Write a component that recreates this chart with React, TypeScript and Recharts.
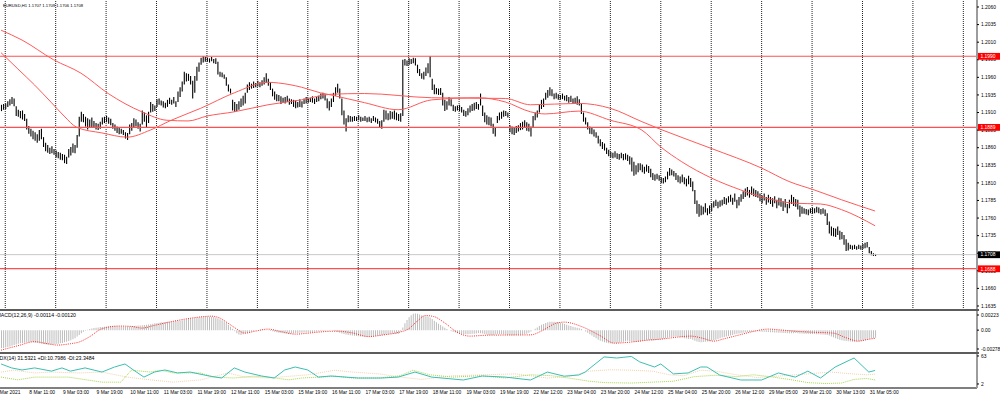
import React from "react";
import { ComposedChart, Bar, Line, XAxis, YAxis, ReferenceLine } from "recharts";

// EURUSD H1 bars, prices in pips over 1.0000 (1921 -> 1.1921)
const highs = [
  1921, 1922, 1923, 1926, 1929, 1932, 1930, 1919, 1914, 1912,
  1913, 1908, 1901, 1891, 1887, 1884, 1882, 1879, 1885, 1887,
  1875, 1867, 1864, 1860, 1862, 1858, 1856, 1854, 1853, 1851,
  1850, 1847, 1858, 1861, 1866, 1864, 1878, 1904, 1911, 1908,
  1904, 1902, 1900, 1903, 1898, 1895, 1894, 1897, 1903, 1904,
  1905, 1903, 1901, 1895, 1893, 1890, 1888, 1887, 1885, 1882,
  1881, 1893, 1895, 1902, 1900, 1896, 1894, 1913, 1910, 1906,
  1911, 1925, 1922, 1920, 1929, 1930, 1927, 1926, 1924, 1928,
  1931, 1928, 1932, 1926, 1940, 1946, 1954, 1968, 1966, 1965,
  1962, 1955, 1962, 1975, 1981, 1988, 1990, 1989, 1988, 1987,
  1989, 1986, 1987, 1982, 1968, 1967, 1964, 1960, 1950, 1944,
  1928, 1925, 1922, 1926, 1930, 1934, 1938, 1950, 1953, 1951,
  1954, 1952, 1955, 1953, 1956, 1960, 1966, 1958, 1953, 1944,
  1940, 1936, 1935, 1933, 1931, 1932, 1934, 1930, 1929, 1928,
  1927, 1925, 1929, 1926, 1930, 1932, 1930, 1931, 1933, 1930,
  1932, 1934, 1937, 1938, 1936, 1930, 1926, 1930, 1938, 1946,
  1951, 1944, 1930, 1913, 1902, 1906, 1905, 1904, 1905, 1904,
  1906, 1904, 1903, 1905, 1903, 1904, 1902, 1905, 1903, 1901,
  1898, 1899, 1914, 1913, 1909, 1912, 1911, 1913, 1910, 1908,
  1909, 1985, 1986, 1984, 1987, 1986, 1988, 1987, 1978, 1972,
  1966, 1968, 1974, 1980, 1990, 1958, 1950, 1945, 1944, 1945,
  1938, 1928, 1926, 1932, 1929, 1921, 1919, 1920, 1921, 1918,
  1914, 1912, 1916, 1920, 1922, 1924, 1925, 1922, 1937, 1920,
  1910, 1906, 1904, 1903, 1894, 1888, 1905, 1910, 1911, 1913,
  1912, 1910, 1892, 1890, 1888, 1891, 1892, 1895, 1897, 1899,
  1896, 1894, 1890, 1905, 1910, 1913, 1922, 1928, 1930, 1938,
  1942, 1946, 1943, 1937, 1938, 1936, 1935, 1937, 1934, 1935,
  1932, 1934, 1930, 1931, 1933, 1929, 1922, 1910, 1903, 1896,
  1890, 1888, 1886, 1882, 1877, 1872, 1868, 1866, 1860, 1857,
  1854, 1853, 1855, 1852, 1851, 1853, 1851, 1852, 1850, 1848,
  1846, 1840, 1835, 1838, 1838, 1836, 1833, 1836, 1834, 1830,
  1824, 1822, 1823, 1821, 1818, 1817, 1819, 1826, 1831, 1829,
  1827, 1824, 1821, 1819, 1822, 1818, 1816, 1820, 1817, 1812,
  1800, 1785, 1780, 1778, 1776, 1781, 1774, 1778, 1781, 1784,
  1786, 1783, 1785, 1786, 1790, 1788, 1791, 1793, 1789, 1795,
  1786, 1790, 1794, 1798, 1802, 1804, 1800, 1805, 1802, 1800,
  1798, 1795, 1792, 1795, 1790, 1793, 1790, 1788, 1791, 1786,
  1789, 1788, 1784, 1787, 1780, 1786, 1793, 1790, 1787, 1786,
  1778, 1776, 1774, 1773, 1772, 1774, 1775, 1774, 1776, 1775,
  1773, 1774, 1772, 1767, 1755, 1748, 1746, 1745, 1748, 1742,
  1740, 1736, 1730, 1725, 1722, 1721, 1722, 1720, 1722, 1721,
  1723, 1725, 1726, 1719, 1713, 1710, 1709,
];

const lows = [
  1912, 1914, 1915, 1918, 1920, 1922, 1919, 1905, 1904, 1902,
  1900, 1898, 1886, 1880, 1876, 1872, 1870, 1867, 1870, 1872,
  1861, 1855, 1853, 1851, 1852, 1850, 1846, 1845, 1843, 1842,
  1838, 1837, 1846, 1849, 1853, 1852, 1860, 1876, 1897, 1896,
  1890, 1886, 1888, 1889, 1888, 1886, 1885, 1887, 1893, 1895,
  1896, 1894, 1892, 1887, 1884, 1881, 1879, 1880, 1878, 1873,
  1871, 1879, 1884, 1888, 1890, 1887, 1883, 1893, 1897, 1889,
  1895, 1910, 1911, 1912, 1918, 1921, 1920, 1917, 1916, 1918,
  1922, 1921, 1923, 1918, 1925, 1932, 1940, 1950, 1954, 1955,
  1950, 1930, 1938, 1955, 1968, 1978, 1981, 1982, 1982, 1981,
  1983, 1980, 1979, 1964, 1961, 1960, 1958, 1948, 1940, 1937,
  1913, 1911, 1912, 1914, 1918, 1920, 1923, 1938, 1942, 1944,
  1945, 1946, 1947, 1946, 1948, 1950, 1952, 1948, 1942, 1933,
  1928, 1926, 1926, 1922, 1924, 1923, 1925, 1921, 1922, 1918,
  1916, 1917, 1918, 1917, 1922, 1923, 1924, 1925, 1924, 1922,
  1925, 1926, 1929, 1930, 1927, 1916, 1913, 1918, 1925, 1934,
  1938, 1930, 1906, 1893, 1883, 1896, 1897, 1897, 1898, 1898,
  1899, 1897, 1898, 1898, 1896, 1897, 1895, 1898, 1896, 1894,
  1888, 1887, 1897, 1900, 1899, 1900, 1901, 1900, 1899, 1898,
  1897, 1905, 1977, 1976, 1978, 1979, 1980, 1977, 1966, 1962,
  1958, 1957, 1962, 1966, 1960, 1942, 1936, 1936, 1935, 1935,
  1920, 1912, 1914, 1920, 1919, 1912, 1911, 1913, 1912, 1910,
  1905, 1904, 1906, 1910, 1912, 1913, 1915, 1914, 1920, 1905,
  1896, 1893, 1892, 1890, 1880, 1876, 1895, 1899, 1901, 1904,
  1905, 1903, 1882, 1879, 1878, 1881, 1883, 1885, 1886, 1888,
  1884, 1883, 1876, 1888, 1899, 1903, 1910, 1915, 1918, 1928,
  1931, 1934, 1933, 1929, 1930, 1928, 1928, 1929, 1927, 1926,
  1924, 1925, 1922, 1923, 1921, 1920, 1908, 1897, 1893, 1886,
  1880, 1879, 1876, 1874, 1866, 1862, 1858, 1856, 1851, 1848,
  1846, 1845, 1846, 1844, 1843, 1845, 1842, 1843, 1841, 1836,
  1826, 1820, 1822, 1825, 1828, 1825, 1823, 1826, 1824, 1818,
  1814, 1813, 1815, 1813, 1810, 1809, 1811, 1815, 1820, 1821,
  1819, 1814, 1811, 1809, 1811, 1808, 1805, 1808, 1804, 1798,
  1780, 1766, 1762, 1764, 1765, 1768, 1764, 1766, 1770, 1775,
  1777, 1774, 1776, 1778, 1780, 1779, 1782, 1783, 1779, 1783,
  1774, 1778, 1783, 1787, 1790, 1792, 1789, 1793, 1791, 1790,
  1789, 1784, 1781, 1785, 1779, 1782, 1780, 1776, 1781, 1774,
  1778, 1776, 1770, 1775, 1767, 1774, 1780, 1777, 1776, 1772,
  1762, 1766, 1766, 1765, 1764, 1767, 1766, 1767, 1768, 1767,
  1765, 1766, 1763, 1750, 1738, 1735, 1734, 1733, 1736, 1729,
  1730, 1722, 1713, 1714, 1716, 1715, 1716, 1715, 1716, 1715,
  1716, 1717, 1718, 1710, 1707, 1706, 1706,
];

// moving averages, [bar, pips]
const maFast = [
  [0, 1995], [8, 1972], [16, 1949], [24, 1924], [30, 1905], [36, 1889], [48, 1881],
  [60, 1875], [71, 1885], [81, 1899], [95, 1916], [111, 1938], [127, 1953], [132, 1952],
  [143, 1946], [152, 1938], [157, 1935], [173, 1924], [189, 1914], [205, 1928], [227, 1931],
  [240, 1925], [252, 1911], [259, 1908], [275, 1912], [290, 1899], [305, 1885], [314, 1861],
  [324, 1840], [338, 1817], [352, 1800], [362, 1790], [378, 1781], [390, 1780], [400, 1772],
  [416, 1749],
];
const maSlow = [
  [0, 2027], [10, 2013], [25, 1985], [38, 1966], [51, 1937], [67, 1911], [79, 1899],
  [89, 1898], [98, 1905], [111, 1911], [127, 1921], [143, 1928], [157, 1936], [173, 1937],
  [205, 1931], [240, 1930], [252, 1921], [275, 1923], [290, 1916], [305, 1897], [314, 1886],
  [338, 1859], [362, 1831], [375, 1812], [387, 1800], [400, 1786], [416, 1770],
];

// MACD(12,26,9) main, in 0.00001
const macdMain = [
  -265, -262, -255, -250, -240, -230, -220, -210, -200, -195,
  -190, -185, -180, -178, -175, -180, -185, -190, -195, -200,
  -205, -208, -210, -212, -210, -208, -205, -200, -195, -188,
  -180, -170, -160, -150, -135, -120, -95, -70, -45, -25,
  -10, 5, 15, 25, 30, 35, 40, 45, 48, 50,
  55, 58, 60, 62, 60, 58, 55, 52, 50, 50,
  52, 55, 58, 62, 65, 68, 70, 72, 75, 78,
  82, 88, 95, 100, 105, 110, 115, 118, 120, 122,
  125, 128, 130, 133, 137, 140, 145, 150, 160, 168,
  172, 175, 180, 185, 190, 195, 198, 200, 200, 198,
  196, 193, 188, 175, 160, 145, 128, 110, 80, 50,
  20, -15, -45, -65, -70, -60, -50, -40, -30, -20,
  -12, -5, 0, 5, 8, 6, 2, -5, -12, -18,
  -25, -32, -38, -42, -45, -48, -50, -52, -50, -48,
  -45, -42, -40, -38, -36, -35, -33, -30, -28, -25,
  -22, -20, -18, -15, -12, -10, -8, -6, -10, -18,
  -28, -40, -50, -58, -65, -70, -74, -78, -82, -86,
  -90, -93, -95, -96, -96, -95, -93, -90, -86, -82,
  -78, -74, -70, -66, -62, -58, -55, -52, -52, -54,
  -20, 40, 100, 150, 190, 220, 240, 246, 240, 230,
  220, 210, 205, 200, 185, 165, 140, 115, 95, 75,
  55, 35, 15, 0, -15, -25, -35, -45, -50, -55,
  -58, -60, -60, -58, -55, -52, -48, -42, -45, -50,
  -58, -65, -70, -72, -70, -66, -62, -60, -62, -65,
  -68, -72, -75, -76, -74, -70, -68, -66, -65, -62,
  -55, -40, -20, 0, 20, 40, 60, 78, 92, 105,
  115, 122, 125, 123, 120, 115, 108, 100, 90, 80,
  70, 60, 50, 42, 35, 28, 15, 0, -20, -40,
  -60, -80, -100, -120, -140, -155, -168, -178, -186, -192,
  -196, -197, -195, -190, -185, -178, -170, -162, -158, -160,
  -165, -170, -172, -170, -166, -160, -155, -150, -148, -150,
  -152, -150, -146, -140, -135, -128, -120, -112, -105, -100,
  -96, -95, -98, -104, -110, -118, -125, -130, -132, -140,
  -155, -168, -175, -178, -176, -172, -168, -162, -155, -148,
  -140, -130, -120, -110, -100, -92, -85, -78, -70, -62,
  -55, -50, -45, -40, -35, -30, -26, -22, -20, -18,
  -18, -20, -22, -24, -26, -28, -30, -32, -34, -36,
  -38, -40, -42, -44, -45, -46, -46, -45, -44, -45,
  -48, -50, -52, -54, -55, -56, -57, -58, -60, -62,
  -64, -66, -68, -70, -80, -92, -105, -118, -130, -140,
  -148, -155, -160, -165, -168, -170, -170, -168, -165, -160,
  -155, -148, -140, -132, -125, -118, -114,
];
const macdSignal = [
  [0, -295], [8, -230], [16, -170], [22, -200], [27, -220], [33, -200], [37, -177],
  [42, -100], [48, 20], [56, 60], [62, 55], [67, 30], [73, 70], [80, 118], [89, 170],
  [95, 195], [100, 206], [104, 180], [108, 103], [112, 20], [116, -44], [121, -15],
  [127, 15], [133, -20], [140, -59], [146, -45], [151, -29], [160, -15], [167, -40],
  [175, -95], [182, -70], [189, -35], [194, 20], [198, 130], [202, 215], [206, 200],
  [211, 110], [217, -29], [223, -88], [232, -74], [242, -72], [252, -70], [258, 0],
  [264, 100], [268, 118], [277, 44], [285, -80], [292, -192], [300, -175], [308, -147],
  [314, -133], [322, -103], [328, -88], [334, -120], [339, -162], [345, -120], [351, -74],
  [358, -20], [365, 15], [372, 0], [380, -20], [385, -29], [396, -44], [402, -110],
  [408, -162], [412, -140], [416, -120],
];

// ADX(14), +DI, -DI
const adx = [
  [0, 45.6], [5, 37], [10, 32.5], [16, 37], [24, 30], [29, 37], [33, 30], [40, 37],
  [48, 28], [54, 39], [59, 45.6], [63, 32.5], [68, 17], [73, 28], [78, 32.5], [84, 26],
  [90, 28], [99, 19.4], [105, 15], [111, 37], [116, 28], [124, 19.4], [130, 15],
  [135, 32.5], [140, 39], [146, 32.5], [151, 17], [157, 19.4], [170, 15], [181, 15],
  [189, 17], [197, 28], [205, 17], [220, 10.7], [229, 19.4], [240, 17], [252, 10.7],
  [260, 28], [268, 19], [275, 21.6], [278, 28], [287, 61], [293, 58.6], [300, 62],
  [304, 50], [311, 39], [314, 45.6], [320, 24], [327, 26], [333, 39], [336, 39],
  [342, 21.6], [352, 10.7], [362, 10.7], [370, 26], [378, 17], [384, 30], [390, 15],
  [397, 39], [406, 58.6], [413, 28], [416, 31.5],
];
const plusDi = [
  [0, 17], [8, 11], [16, 17], [32, 17], [48, 6], [57, 6], [62, 32], [71, 28], [76, 32],
  [82, 26], [95, 26], [101, 17], [111, 15], [120, 19], [127, 17], [137, 11], [143, 15],
  [152, 17], [159, 19], [167, 15], [180, 15], [190, 20], [196, 32], [204, 22], [215, 17],
  [228, 20], [240, 15], [252, 22], [262, 20], [270, 15], [280, 8], [287, 5], [300, 4],
  [310, 6], [320, 8], [330, 18], [340, 21], [350, 18], [358, 22], [366, 18], [375, 12],
  [384, 5], [392, 3], [400, 4], [406, 12], [412, 14], [416, 10.8],
];
const minusDi = [
  [0, 28], [6, 32], [16, 26], [24, 28], [37, 26], [48, 28], [60, 17], [71, 11], [82, 6],
  [95, 11], [108, 26], [116, 17], [127, 15], [138, 19], [146, 22], [159, 32], [167, 28],
  [180, 24], [190, 17], [200, 12], [215, 20], [230, 22], [245, 24], [260, 15], [270, 18],
  [280, 30], [290, 33], [300, 32], [310, 30], [318, 22], [325, 20], [333, 32], [340, 30],
  [350, 22], [360, 16], [372, 20], [384, 24], [395, 28], [405, 24], [412, 22], [416, 23.3],
];

const levels = [1.199, 1.1889, 1.1688];
const bidPrice = 1.1708;
const priceTicks = [
  1.206, 1.2035, 1.201, 1.1985, 1.196, 1.1935, 1.191, 1.1885, 1.186,
  1.1835, 1.181, 1.1785, 1.176, 1.1735, 1.171, 1.1685, 1.166, 1.1635,
];
const macdTicks = [0.00223, 0, -0.00278];
const adxTicks = [63, 2];
const gridBars = [2, 26, 50, 74, 98, 122, 146, 170, 194, 218, 242, 266, 290, 314, 338, 362, 386, 410, 434, 458];
const timeBars = [-3, 13, 29, 45, 61, 77, 93, 109, 125, 141, 157, 173, 189, 205, 221, 237, 253, 269, 285, 301, 317, 333, 349, 365, 381, 397, 413];
const timeLabels = [
  "5 Mar 2021", "8 Mar 11:00", "9 Mar 03:00", "9 Mar 19:00", "10 Mar 11:00", "11 Mar 03:00",
  "11 Mar 19:00", "12 Mar 11:00", "15 Mar 03:00", "15 Mar 19:00", "16 Mar 11:00", "17 Mar 03:00",
  "17 Mar 19:00", "18 Mar 11:00", "19 Mar 03:00", "19 Mar 19:00", "22 Mar 12:00", "23 Mar 04:00",
  "23 Mar 20:00", "24 Mar 12:00", "25 Mar 04:00", "25 Mar 20:00", "26 Mar 12:00", "29 Mar 05:00",
  "29 Mar 21:00", "30 Mar 13:00", "31 Mar 05:00",
];

const FONT = "'Liberation Sans', Arial, sans-serif";
const W = 1000;
const AXIS_W = 23;
const X_DOMAIN = [-0.5, 464.5];
const PRICE_DOMAIN = [1.16293, 1.206995];

const toPrice = (p: number) => 1 + p / 10000;

const bars = highs.map((h, i) => ({
  i,
  hl: [toPrice(lows[i]), toPrice(h)],
  macd: macdMain[i] / 100000,
}));
const series = (pts: number[][], f: (v: number) => number) => pts.map(([i, v]) => ({ i, v: f(v) }));
const fastData = series(maFast, toPrice);
const slowData = series(maSlow, toPrice);
const signalData = series(macdSignal, (v) => v / 100000);
const adxData = series(adx, (v) => v);
const pdiData = series(plusDi, (v) => v);
const mdiData = series(minusDi, (v) => v);

function HLBar(props: any) {
  const { x, y, width, height } = props;
  if (x == null || y == null) return null;
  const cx = x + width / 2;
  const top = Math.min(y, y + height);
  const h = Math.max(Math.abs(height), 1);
  return <line x1={cx} x2={cx} y1={top} y2={top + h} stroke="#000" strokeWidth={1.1} />;
}

const sideText = (x: number, y: number, txt: string) => (
  <text x={x} y={y + 1.7} fontSize={4.9} fontFamily={FONT} fill="#000">
    {txt}
  </text>
);

function PriceTick(props: any) {
  return sideText(props.x, props.y, props.payload.value.toFixed(4));
}
function MacdTick(props: any) {
  const v = props.payload.value;
  return sideText(props.x, props.y, v === 0 ? "0.00" : v.toFixed(5));
}
function AdxTick(props: any) {
  return sideText(props.x, props.y, String(props.payload.value));
}
function TimeTick(props: any) {
  const { x, y, payload } = props;
  const label = timeLabels[timeBars.indexOf(payload.value)];
  return (
    <text x={x + 1} y={y + 4} fontSize={4.9} fontFamily={FONT} fill="#000">
      {label}
    </text>
  );
}

const tag = (fill: string, txt: string) => (p: any) => {
  const vb = p.viewBox;
  if (!vb) return null;
  const x = vb.x + vb.width + 1;
  return (
    <g>
      <rect x={x} y={vb.y - 3.3} width={22} height={6.8} fill={fill} />
      <text x={x + 2.5} y={vb.y + 1.8} fontSize={4.9} fontFamily={FONT} fill="#fff">
        {txt}
      </text>
    </g>
  );
};

const yAxisCommon = {
  orientation: "right" as const,
  width: AXIS_W,
  allowDataOverflow: true,
  interval: 0 as const,
  axisLine: { stroke: "#9c9c9c", strokeWidth: 2 },
  tickLine: { stroke: "#000" },
  tickSize: 2,
  tickMargin: 2,
};
const noMargin = { top: 0, right: 0, bottom: 0, left: 0 };

export default function App() {
  return (
    <div style={{ position: "absolute", left: 0, top: 0, width: W, height: 399, background: "#fff" }}>
      {/* price window */}
      <div style={{ position: "absolute", left: 0, top: 0 }}>
        <ComposedChart width={W} height={310} data={bars} margin={noMargin}>
          <XAxis type="number" dataKey="i" domain={X_DOMAIN} hide allowDataOverflow />
          <YAxis {...yAxisCommon} type="number" domain={PRICE_DOMAIN} ticks={priceTicks} tick={<PriceTick />} />
          {gridBars.map((g) => (
            <ReferenceLine key={g} x={g} stroke="#222" strokeDasharray="1 1" />
          ))}
          <ReferenceLine y={bidPrice} stroke="#c8c8c8" />
          {levels.map((lv) => (
            <ReferenceLine key={lv} y={lv} stroke="#ff5050" strokeWidth={1.2} />
          ))}
          <Bar dataKey="hl" barSize={1} shape={<HLBar />} isAnimationActive={false} />
          <Line data={slowData} dataKey="v" type="monotone" stroke="#ff5a5a" strokeWidth={1} dot={false} activeDot={false} isAnimationActive={false} />
          <Line data={fastData} dataKey="v" type="monotone" stroke="#ff5a5a" strokeWidth={1} dot={false} activeDot={false} isAnimationActive={false} />
        </ComposedChart>
      </div>

      {/* price tags on the scale, drawn above the tick labels */}
      <div style={{ position: "absolute", left: 0, top: 0, pointerEvents: "none" }}>
        <ComposedChart width={W} height={310} data={bars} margin={{ top: 0, right: AXIS_W, bottom: 0, left: 0 }}>
          <XAxis type="number" dataKey="i" domain={X_DOMAIN} hide allowDataOverflow />
          <YAxis type="number" domain={PRICE_DOMAIN} hide allowDataOverflow />
          <ReferenceLine y={bidPrice} stroke="none" label={tag("#000", bidPrice.toFixed(4))} />
          {levels.map((lv) => (
            <ReferenceLine key={lv} y={lv} stroke="none" label={tag("#ff0000", lv.toFixed(4))} />
          ))}
        </ComposedChart>
      </div>

      {/* MACD window */}
      <div style={{ position: "absolute", left: 0, top: 310 }}>
        <ComposedChart width={W} height={43} data={bars} margin={noMargin}>
          <XAxis type="number" dataKey="i" domain={X_DOMAIN} hide allowDataOverflow />
          <YAxis {...yAxisCommon} type="number" domain={[-0.00337, 0.002967]} ticks={macdTicks} tick={<MacdTick />} />
          <Bar dataKey="macd" barSize={1} fill="#bcbcbc" isAnimationActive={false} />
          <Line data={signalData} dataKey="v" type="monotone" stroke="#ff2a2a" strokeWidth={1} strokeDasharray="1 1.2" dot={false} activeDot={false} isAnimationActive={false} />
        </ComposedChart>
      </div>

      {/* ADX window */}
      <div style={{ position: "absolute", left: 0, top: 353 }}>
        <ComposedChart width={W} height={46} data={bars} margin={noMargin}>
          <XAxis
            type="number"
            dataKey="i"
            domain={X_DOMAIN}
            allowDataOverflow
            ticks={timeBars}
            interval={0}
            height={11}
            tick={<TimeTick />}
            tickLine={false}
            tickSize={0}
            tickMargin={2}
            axisLine={{ stroke: "#555", strokeWidth: 1.5 }}
          />
          <YAxis {...yAxisCommon} type="number" domain={[-6.75, 69.5]} ticks={adxTicks} tick={<AdxTick />} />
          <Line data={mdiData} dataKey="v" type="linear" stroke="#f2d2ae" strokeWidth={1} strokeDasharray="1 1" dot={false} activeDot={false} isAnimationActive={false} />
          <Line data={pdiData} dataKey="v" type="linear" stroke="#a8d64a" strokeWidth={1} strokeDasharray="1 1" dot={false} activeDot={false} isAnimationActive={false} />
          <Line data={adxData} dataKey="v" type="linear" stroke="#3cbfb2" strokeWidth={1} dot={false} activeDot={false} isAnimationActive={false} />
        </ComposedChart>
      </div>

      {/* window frames and captions */}
      <svg width={W} height={399} style={{ position: "absolute", left: 0, top: 0, pointerEvents: "none" }}>
        <rect x={0} y={309} width={979} height={2} fill="#5c5c5c" />
        <rect x={0} y={352} width={979} height={2} fill="#5c5c5c" />
        <text x={3} y={7} fontSize={4.2} fontFamily={FONT} fill="#000">
          EURUSD,H1  1.1707 1.1709 1.1706 1.1708
        </text>
        <text x={-3.5} y={316.5} fontSize={5.2} fontFamily={FONT} fill="#000">
          MACD(12,26,9) -0.00114 -0.00120
        </text>
        <text x={-4} y={360} fontSize={5.2} fontFamily={FONT} fill="#000">
          ADX(14) 31.5321 +DI:10.7986 -DI:23.3484
        </text>
      </svg>
    </div>
  );
}
